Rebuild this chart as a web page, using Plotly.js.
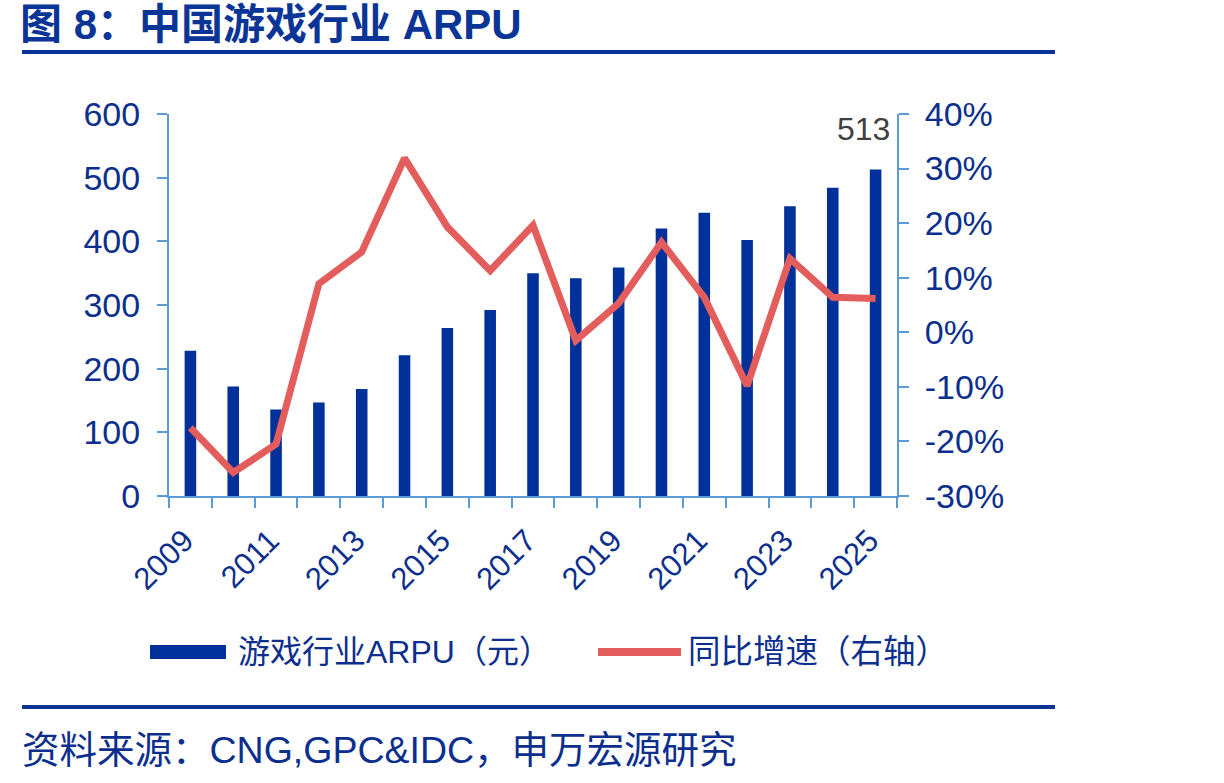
<!DOCTYPE html>
<html>
<head>
<meta charset="utf-8">
<script src="https://cdn.plot.ly/plotly-3.0.1.min.js"></script>
<style>
  html, body { margin: 0; padding: 0; background: #ffffff; }
  #chart { width: 1224px; height: 783px; }
</style>
</head>
<body>
<div id="chart"></div>
<script>
// 中国游戏行业 ARPU（元）与同比增速（%）
const years = [2009, 2010, 2011, 2012, 2013, 2014, 2015, 2016, 2017, 2018, 2019, 2020, 2021, 2022, 2023, 2024, 2025];
const arpu = [228, 172, 136, 147, 168, 221, 264, 292, 350, 342, 359, 420, 445, 402, 455, 484, 513];
const yoy = [-17.5, -25.7, -20.5, 8.9, 14.7, 31.9, 19.3, 11.3, 19.6, -1.5, 5.3, 16.5, 6.4, -9.8, 13.5, 6.4, 6.2];
const labelYears = [2009, 2011, 2013, 2015, 2017, 2019, 2021, 2023, 2025];
const leftTicks = [0, 100, 200, 300, 400, 500, 600];
const rightTicks = [-30, -20, -10, 0, 10, 20, 30, 40];

const barName = '游戏行业ARPU（元）';
const lineName = '同比增速（右轴）';
const titleText = '图 8：中国游戏行业 ARPU';
const sourceText = '资料来源：CNG,GPC&IDC，申万宏源研究';

// colours and fonts
const NAVY = '#00309a';
const TEXT_BLUE = '#0c2f8e';
const RULE_BLUE = '#0a3596';
const AXIS_BLUE = '#5b9bd5';
const RED = '#e35d5d';
const FONT = "'Liberation Sans', Arial, 'Noto Sans CJK SC', sans-serif";

// plot area edges in pixels
const W = 1224, H = 783;
const L = 169, R = 897, T = 114, B = 496;
const px = x => (x - L) / (R - L);
const py = y => (B - y) / (B - T);

// tick marks sit on category boundaries
const boundaries = years.map(y => y - 0.5).concat([years[years.length - 1] + 0.5]);

const traces = [
  {
    type: 'bar',
    x: years,
    y: arpu,
    name: barName,
    width: 0.27,
    marker: { color: NAVY },
    hoverinfo: 'x+y'
  },
  {
    type: 'scatter',
    mode: 'lines',
    x: years,
    y: yoy,
    name: lineName,
    yaxis: 'y2',
    line: { color: RED, width: 7 },
    hoverinfo: 'x+y'
  }
];

const lastIdx = arpu.length - 1;

const layout = {
  width: W,
  height: H,
  paper_bgcolor: '#ffffff',
  plot_bgcolor: '#ffffff',
  margin: { l: L, r: W - R, t: T, b: H - B, pad: 0 },
  showlegend: false,
  font: { family: FONT, color: TEXT_BLUE },
  title: {
    text: '<b>' + titleText + '</b>',
    xref: 'container', yref: 'container',
    x: 20 / W, xanchor: 'left',
    y: 1 - 10 / H, yanchor: 'top',
    font: { family: FONT, size: 42, color: RULE_BLUE }
  },
  xaxis: {
    type: 'linear',
    range: [years[0] - 0.5, years[lastIdx] + 0.5],
    tickmode: 'array',
    tickvals: labelYears,
    ticktext: labelYears.map(String),
    ticks: '',
    tickangle: -45,
    tickfont: { size: 31, color: TEXT_BLUE },
    ticklabelstandoff: 12,
    ticklabelshift: -6,
    showline: true,
    linecolor: AXIS_BLUE,
    linewidth: 2,
    showgrid: false,
    zeroline: false,
    minor: {
      tickmode: 'array',
      tickvals: boundaries,
      ticks: 'outside',
      ticklen: 10,
      tickwidth: 2,
      tickcolor: AXIS_BLUE,
      showgrid: false
    },
    fixedrange: true
  },
  yaxis: {
    range: [0, 600],
    tickmode: 'array',
    tickvals: leftTicks,
    ticktext: leftTicks.map(String),
    ticks: 'outside',
    ticklen: 10,
    tickwidth: 2,
    tickcolor: AXIS_BLUE,
    showline: true,
    linecolor: AXIS_BLUE,
    linewidth: 2,
    showgrid: false,
    zeroline: false,
    tickfont: { size: 34, color: TEXT_BLUE },
    ticklabelstandoff: 10,
    fixedrange: true
  },
  yaxis2: {
    overlaying: 'y',
    side: 'right',
    range: [-30, 40],
    tickmode: 'array',
    tickvals: rightTicks,
    ticktext: rightTicks.map(v => v + '%'),
    ticks: 'outside',
    ticklen: 10,
    tickwidth: 2,
    tickcolor: AXIS_BLUE,
    showline: true,
    linecolor: AXIS_BLUE,
    linewidth: 2,
    showgrid: false,
    zeroline: false,
    tickfont: { size: 34, color: TEXT_BLUE },
    ticklabelstandoff: 9,
    fixedrange: true
  },
  shapes: [
    // rule under the title
    { type: 'line', xref: 'paper', yref: 'paper', x0: px(22), x1: px(1055), y0: py(52), y1: py(52),
      line: { color: RULE_BLUE, width: 4 } },
    // rule above the source line
    { type: 'line', xref: 'paper', yref: 'paper', x0: px(22), x1: px(1055), y0: py(707), y1: py(707),
      line: { color: RULE_BLUE, width: 4 } },
    // legend key: bars
    { type: 'rect', xref: 'paper', yref: 'paper', x0: px(150), x1: px(226), y0: py(645), y1: py(659),
      fillcolor: NAVY, line: { width: 0 } },
    // legend key: line
    { type: 'line', xref: 'paper', yref: 'paper', x0: px(598), x1: px(681), y0: py(652), y1: py(652),
      line: { color: RED, width: 8 } }
  ],
  annotations: [
    // value label on the last bar
    { xref: 'x', yref: 'y', x: years[lastIdx], y: arpu[lastIdx], text: String(arpu[lastIdx]),
      showarrow: false, xanchor: 'center', yanchor: 'bottom', xshift: -12, yshift: 20,
      font: { family: FONT, size: 32, color: '#404040' } },
    // legend labels
    { xref: 'paper', yref: 'paper', x: px(236), y: py(652), text: barName, showarrow: false,
      xanchor: 'left', yanchor: 'middle', font: { family: FONT, size: 32, color: TEXT_BLUE } },
    { xref: 'paper', yref: 'paper', x: px(686), y: py(652), text: lineName, showarrow: false,
      xanchor: 'left', yanchor: 'middle', font: { family: FONT, size: 32.5, color: TEXT_BLUE } },
    // source line
    { xref: 'paper', yref: 'paper', x: px(20), y: py(750), text: sourceText, showarrow: false,
      xanchor: 'left', yanchor: 'middle', font: { family: FONT, size: 37.5, color: TEXT_BLUE } }
  ]
};

Plotly.newPlot('chart', traces, layout, { displayModeBar: false, staticPlot: true });
</script>
</body>
</html>
